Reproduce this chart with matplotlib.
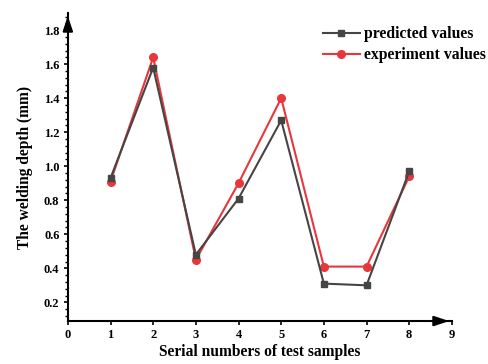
import matplotlib
matplotlib.use("Agg")
import matplotlib.pyplot as plt
from matplotlib.ticker import MultipleLocator

# ---------- Données ----------

samples   = [1, 2, 3, 4, 5, 6, 7, 8]
predicted = [0.93, 1.58, 0.48, 0.81, 1.27, 0.31, 0.30, 0.97]
experiment = [0.91, 1.64, 0.45, 0.90, 1.40, 0.41, 0.41, 0.94]

xticks = [0, 1, 2, 3, 4, 5, 6, 7, 8, 9]
yticks = [0.2, 0.4, 0.6, 0.8, 1.0, 1.2, 1.4, 1.6, 1.8]

gris  = "#454545"
rouge = "#e8373c"

# ---------- Figure ----------

plt.rcParams["font.family"] = ["Liberation Serif", "DejaVu Serif"]
plt.rcParams["font.weight"] = "bold"

fig = plt.figure(figsize=(4.88, 3.64), dpi=100)
ax = fig.add_axes([0.139, 0.118, 0.787, 0.846])

ax.plot(samples, predicted, color=gris, lw=1.5, marker="s", ms=5, label="predicted values", zorder=3)
ax.plot(samples, experiment, color=rouge, lw=1.5, marker="o", ms=5.5, label="experiment values", zorder=2)

ax.set_xlim(0, 9)
ax.set_ylim(0.09, 1.9)
ax.set_xticks(xticks)
ax.set_yticks(yticks)
ax.set_yticklabels(["%.1f" % v for v in yticks])
ax.yaxis.set_minor_locator(MultipleLocator(0.04))

for s in ["top", "right"]:
    ax.spines[s].set_visible(False)
for s in ["left", "bottom"]:
    ax.spines[s].set_linewidth(1.5)
    ax.spines[s].set_color("black")

ax.tick_params(axis="both", which="major", labelsize=9, width=1.2, length=3, pad=3)
ax.tick_params(axis="y", which="minor", width=1.0, length=2)
for lab in ax.get_xticklabels() + ax.get_yticklabels():
    lab.set_fontweight("bold")

# Flèches au bout des axes
ax.annotate("", xy=(1.0, 0), xytext=(0.94, 0), xycoords="axes fraction",
            arrowprops=dict(arrowstyle="-|>,head_length=0.9,head_width=0.3", color="black", lw=1.5))
ax.annotate("", xy=(0, 1.0), xytext=(0, 0.94), xycoords="axes fraction",
            arrowprops=dict(arrowstyle="-|>,head_length=0.9,head_width=0.3", color="black", lw=1.5))

ax.set_xlabel("Serial numbers of test samples", fontsize=11.2, fontweight="bold", labelpad=2)
ax.set_ylabel("The welding depth (mm)", fontsize=11.2, fontweight="bold", labelpad=8)

leg = ax.legend(loc="upper left", bbox_to_anchor=(0.664, 0.957), frameon=False,
                prop={"size": 11.3, "weight": "bold"}, handlelength=2.35,
                handletextpad=0.3, labelspacing=0.3, borderaxespad=0, borderpad=0)

fig.savefig("out.png", dpi=100)
